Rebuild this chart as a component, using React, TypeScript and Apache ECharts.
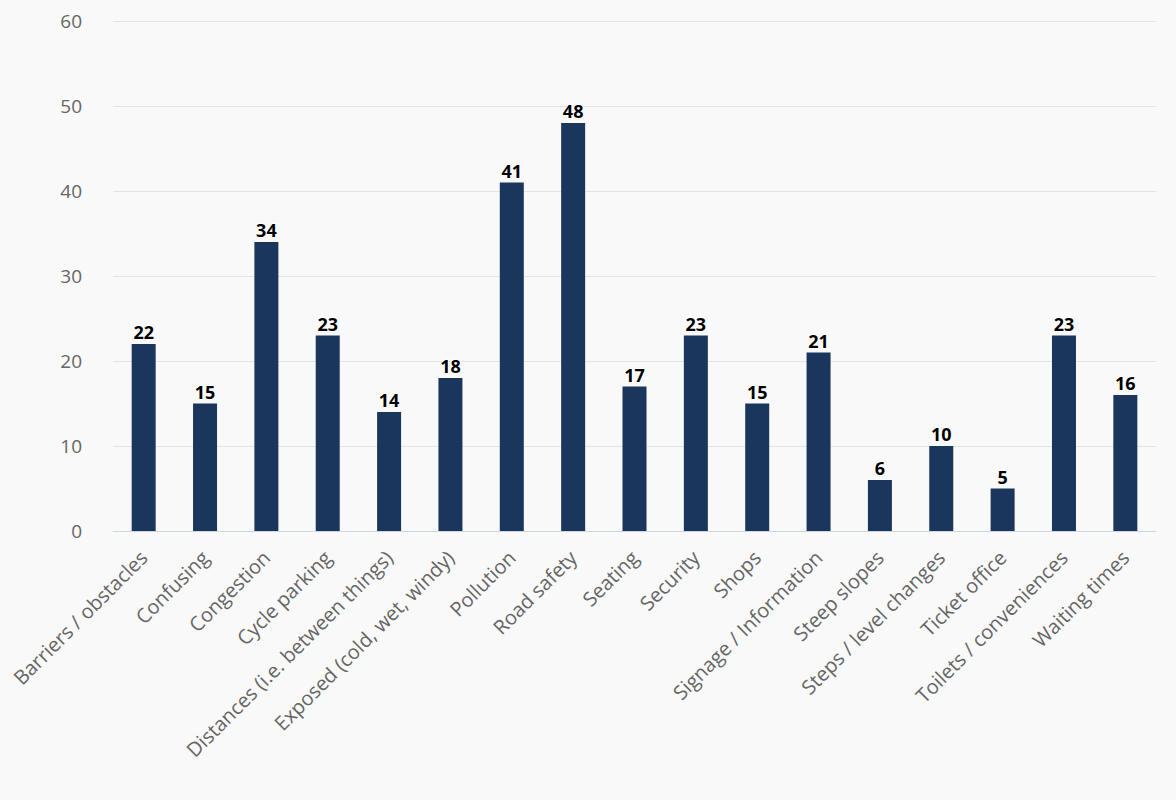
import React, { useEffect, useRef } from "react";
import * as echarts from "echarts";

const categories = [
  "Barriers / obstacles",
  "Confusing",
  "Congestion",
  "Cycle parking",
  "Distances (i.e. between things)",
  "Exposed (cold, wet, windy)",
  "Pollution",
  "Road safety",
  "Seating",
  "Security",
  "Shops",
  "Signage / Information",
  "Steep slopes",
  "Steps / level changes",
  "Ticket office",
  "Toilets / conveniences",
  "Waiting times",
];
const values = [22, 15, 34, 23, 14, 18, 41, 48, 17, 23, 15, 21, 6, 10, 5, 23, 16];

const FONT = "'Open Sans', 'Noto Sans', sans-serif";

export default function App() {
  const ref = useRef<HTMLDivElement>(null);
  useEffect(() => {
    document.body.style.margin = "0";
    document.body.style.background = "#f9f9f9";
    const chart = echarts.init(ref.current!, null, { renderer: "svg" });
    chart.setOption({
      animation: false,
      backgroundColor: "#f9f9f9",
      textStyle: { fontFamily: FONT },
      grid: { left: 113, right: 20, top: 21, bottom: 269, containLabel: false },
      xAxis: {
        type: "category",
        data: categories,
        axisLine: { lineStyle: { color: "#ccd6eb", width: 1 } },
        axisTick: { show: false },
        axisLabel: {
          rotate: 45,
          interval: 0,
          margin: 23,
          color: "#666666",
          fontSize: 20,
          fontFamily: FONT,
        },
      },
      yAxis: {
        type: "value",
        min: 0,
        max: 60,
        interval: 10,
        axisLine: { show: false },
        axisTick: { show: false },
        axisLabel: { color: "#666666", fontSize: 19, margin: 31, fontFamily: FONT },
        splitLine: { lineStyle: { color: "#e3e3e3", width: 1 } },
      },
      series: [
        {
          type: "bar",
          data: values,
          barWidth: 24,
          itemStyle: { color: "#1b365d" },
          label: {
            show: true,
            position: "top",
            distance: 3,
            color: "#000000",
            fontWeight: "bold",
            fontSize: 18,
            fontFamily: FONT,
            textBorderColor: "#ffffff",
            textBorderWidth: 2,
          },
        },
      ],
    });
    return () => chart.dispose();
  }, []);
  return <div ref={ref} style={{ width: 1176, height: 800 }} />;
}
